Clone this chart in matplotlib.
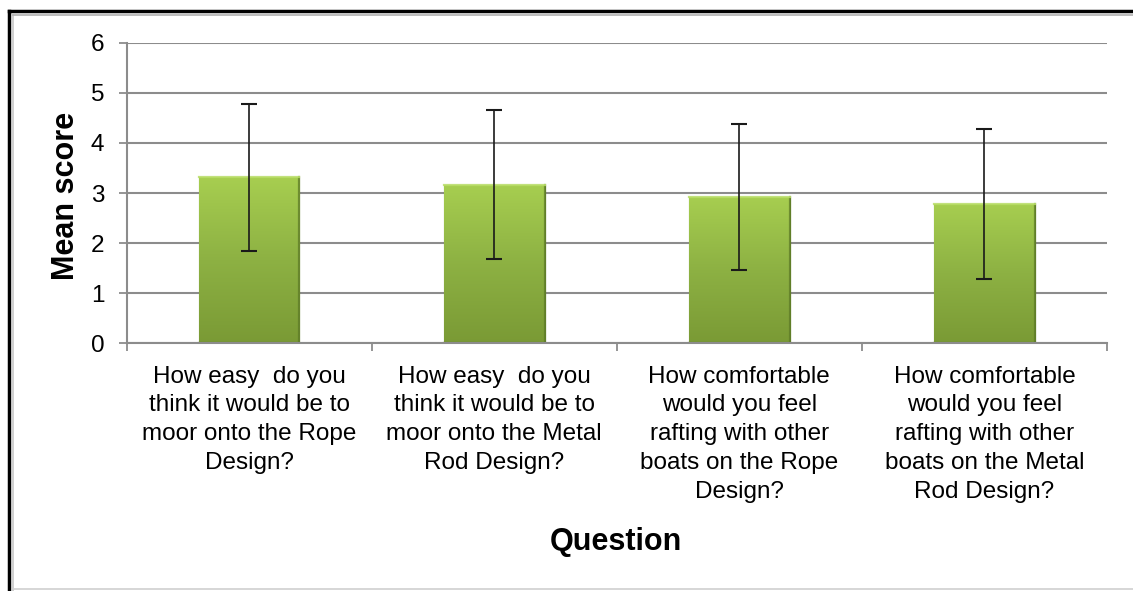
import numpy as np
import matplotlib.pyplot as plt
from matplotlib.colors import LinearSegmentedColormap
from matplotlib.lines import Line2D

questions = [
    "How easy  do you\nthink it would be to\nmoor onto the Rope\nDesign?",
    "How easy  do you\nthink it would be to\nmoor onto the Metal\nRod Design?",
    "How comfortable\nwould you feel\nrafting with other\nboats on the Rope\nDesign?",
    "How comfortable\nwould you feel\nrafting with other\nboats on the Metal\nRod Design?",
]
mean_scores = [3.31, 3.17, 2.92, 2.78]
std_devs = [1.46, 1.48, 1.46, 1.49]
y_ticks = [0, 1, 2, 3, 4, 5, 6]

plt.rcParams['font.family'] = ['Liberation Sans', 'DejaVu Sans']

fig = plt.figure(figsize=(11.33, 5.91), dpi=100)
ax = fig.add_axes([0.1118, 0.419, 0.977 - 0.1118, 0.9278 - 0.419])

x = np.arange(len(questions))
bars = ax.bar(x, mean_scores, width=0.41, color='#93b947',
              edgecolor='#6a8a2c', linewidth=0.8, zorder=2)

# vertical gradient fill, clipped to each bar
grad_cmap = LinearSegmentedColormap.from_list(
    'bar_grad', ['#7a9a35', '#8db143', '#a7ce50'])
grad = np.linspace(0, 1, 256).reshape(-1, 1)
for b in bars:
    x0, y0 = b.get_x(), b.get_y()
    w, h = b.get_width(), b.get_height()
    im = ax.imshow(grad, cmap=grad_cmap, origin='lower', aspect='auto',
                   extent=[x0, x0 + w, y0, y0 + h], zorder=2.1,
                   interpolation='bicubic')
    im.set_clip_path(b)
    # bevel highlights and shadows along the edges
    ax.add_line(Line2D([x0 + w, x0 + w], [y0, y0 + h], color='#5d7a27',
                       lw=1.6, zorder=2.2, alpha=0.75))
    ax.add_line(Line2D([x0, x0 + w], [y0, y0], color='#55702a',
                       lw=1.6, zorder=2.2, alpha=0.7))
    ax.add_line(Line2D([x0, x0 + w], [y0 + h, y0 + h], color='#b9de68',
                       lw=1.6, zorder=2.2, alpha=0.85))

ax.errorbar(x, mean_scores, yerr=std_devs, fmt='none', ecolor='#1a1a1a',
            elinewidth=1.2, capsize=5.5, capthick=1.5, zorder=3)

ax.set_xlim(-0.5, len(questions) - 0.5)
ax.set_ylim(0, 6)
ax.set_yticks(y_ticks)
ax.set_yticklabels([str(t) for t in y_ticks], fontsize=17.5)
ax.yaxis.grid(True, color='#8c8c8c', linewidth=1.5, zorder=0)
ax.set_axisbelow(True)

ax.set_xticks(x)
ax.set_xticklabels(questions, fontsize=17.5, linespacing=1.4)
ax.tick_params(axis='x', length=0, pad=16)
ax.set_xticks(np.arange(len(questions) + 1) - 0.5, minor=True)
ax.tick_params(axis='x', which='minor', length=6, width=1.3, color='#8c8c8c',
               direction='out')
ax.tick_params(axis='y', length=6, width=1.3, color='#8c8c8c',
               direction='out', pad=10)

for side in ['top', 'right']:
    ax.spines[side].set_visible(False)
ax.spines['left'].set_color('#8c8c8c')
ax.spines['left'].set_linewidth(1.5)
ax.spines['bottom'].set_color('#8c8c8c')
ax.spines['bottom'].set_linewidth(1.5)

W, H = 1133, 591
fig.text(66 / W, 1 - 196 / H, 'Mean score', fontsize=22, fontweight='bold',
         rotation=90, ha='center', va='center')
fig.text(615.5 / W, 1 - 542 / H, 'Question', fontsize=22, fontweight='bold',
         ha='center', va='center')

# outer frame
fig.add_artist(Line2D([8.5 / W, 8.5 / W], [0, 1 - 10.5 / H], color='black',
                      lw=2.5, transform=fig.transFigure))
fig.add_artist(Line2D([8.5 / W, 1], [1 - 10.5 / H, 1 - 10.5 / H],
                      color='black', lw=2.5, transform=fig.transFigure))
fig.add_artist(Line2D([12.5 / W, 12.5 / W], [0, 1 - 14.5 / H],
                      color='#c8c8c8', lw=1.2, transform=fig.transFigure))
fig.add_artist(Line2D([12.5 / W, 1], [1 - 14.5 / H, 1 - 14.5 / H],
                      color='#b0b0b0', lw=1.2, transform=fig.transFigure))
fig.add_artist(Line2D([12.5 / W, 1], [1 - 589 / H, 1 - 589 / H],
                      color='#d0d0d0', lw=1.2, transform=fig.transFigure))

fig.savefig('out.png', dpi=100)
